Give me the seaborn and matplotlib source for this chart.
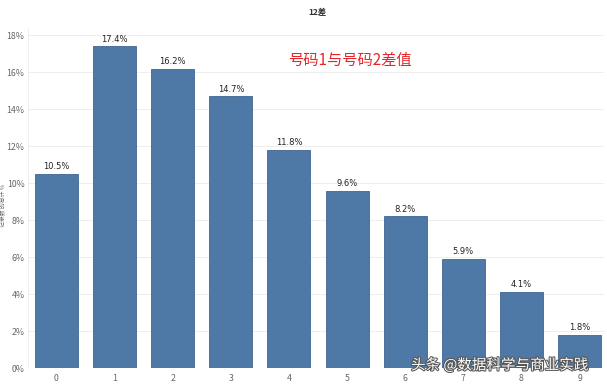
import matplotlib
matplotlib.use("Agg")
import matplotlib.pyplot as plt
import matplotlib.patheffects as pe
from matplotlib.ticker import FuncFormatter
import seaborn as sns
import pandas as pd

categories = ["0", "1", "2", "3", "4", "5", "6", "7", "8", "9"]
values = [10.5, 17.4, 16.2, 14.7, 11.8, 9.6, 8.2, 5.9, 4.1, 1.8]
yticks = [0, 2, 4, 6, 8, 10, 12, 14, 16, 18]

sns.set_theme(style="white")
plt.rcParams['font.family'] = ['Noto Sans CJK SC', 'DejaVu Sans']

df = pd.DataFrame({"diff": categories, "pct": values})

fig = plt.figure(figsize=(6.07, 3.87), dpi=100)
ax = fig.add_axes([28/607, 19/387, 576/607, 340/387])

sns.barplot(data=df, x="diff", y="pct", color="#4e79a7", width=0.74,
            saturation=1, edgecolor="#3f6690", linewidth=0.6, ax=ax, zorder=2)

for p, v in zip(ax.patches, values):
    ax.text(p.get_x() + p.get_width()/2, p.get_height() + 0.15, f"{v}%",
            ha="center", va="bottom", fontsize=6, color="#222222",
            family=["DejaVu Sans"])

ax.set_ylim(0, 18.4)
ax.set_xlim(-0.49, 9.42)
ax.set_yticks(yticks)
ax.yaxis.set_major_formatter(FuncFormatter(lambda v, _: f"{int(v)}%"))
ax.tick_params(axis="both", labelsize=6.3, colors="#666666", length=0, pad=4)
ax.tick_params(axis="y", pad=2.5)
ax.grid(axis="y", color="#eeeeee", linewidth=0.7, zorder=0)
ax.set_axisbelow(True)
for s in ["top", "right", "bottom"]:
    ax.spines[s].set_visible(False)
ax.spines["left"].set_color("#eeeeee")
ax.spines["left"].set_linewidth(0.7)
ax.set_xlabel("")
ax.set_ylabel("")

fig.text(0.5/607, 1 - 205/387, "记录数 的总计 %", rotation=90, ha="left",
         va="center", fontsize=4.2, color="#666666")
fig.text(317/607, 1 - 13/387, "12差", ha="center", va="center",
         fontsize=6, fontweight="bold", color="#333333")
fig.text(350/607, 1 - 60/387, "号码1与号码2差值", ha="center", va="center",
         fontsize=11, color="#e8262a")
fig.text(500/607, 1 - 365/387, "头条 @数据科学与商业实践", ha="center", va="center",
         fontsize=10.5, color="white",
         path_effects=[pe.withStroke(linewidth=1.5, foreground="#555555")])

fig.savefig("out.png", dpi=100)
